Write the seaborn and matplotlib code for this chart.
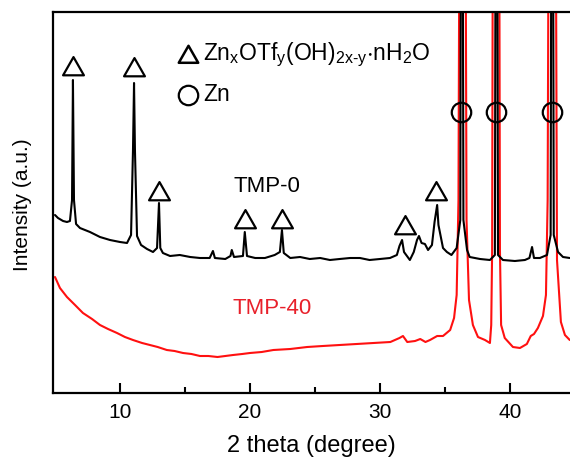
import numpy as np
import pandas as pd
import seaborn as sns
import matplotlib.pyplot as plt
from matplotlib.path import Path

# XRD patterns (2 theta in degree, intensity in a.u.)
# off-scale Zn reflections are given a large value, they run past the top frame
theta_tmp0 = [5.0, 5.23, 5.62, 5.92, 6.15, 6.31, 6.38, 6.46, 6.62, 6.92, 7.69, 8.46,
              9.23, 10.0, 10.54, 10.85, 11.0, 11.08, 11.15, 11.31, 11.62, 12.08, 12.54,
              12.85, 13.0, 13.1, 13.3, 13.85, 14.6, 15.4, 16.15, 16.9, 17.15, 17.3,
              18.1, 18.5, 18.6, 18.77, 19.46, 19.6, 19.77, 20.4, 21.15, 21.9, 22.3,
              22.46, 22.6, 23.1, 23.85, 24.6, 25.4, 26.15, 26.9, 27.7, 28.46, 29.2,
              30.0, 30.77, 31.3, 31.5, 31.7, 31.85, 32.3, 32.6, 32.85, 33.0, 33.2,
              33.46, 33.7, 34.0, 34.2, 34.4, 34.5, 34.85, 35.15, 35.5, 35.9, 36.18,
              36.3, 36.42, 36.7, 36.9, 37.7, 38.46, 38.84, 38.96, 39.08, 39.46, 40.38,
              41.15, 41.5, 41.7, 41.85, 42.3, 42.85, 43.13, 43.25, 43.37, 43.7, 44.08,
              44.6]
int_tmp0 = [1780, 1750, 1720, 1710, 1720, 1930, 3130, 1930, 1690, 1650, 1610, 1560,
            1530, 1510, 1500, 1580, 2430, 3100, 2430, 1570, 1480, 1440, 1410,
            1450, 1900, 1450, 1400, 1370, 1380, 1360, 1350, 1350, 1420, 1350,
            1340, 1370, 1430, 1360, 1370, 1610, 1370, 1350, 1350, 1380, 1410,
            1630, 1400, 1350, 1360, 1340, 1350, 1330, 1340, 1350, 1350, 1330,
            1340, 1350, 1380, 1470, 1530, 1410, 1330, 1410, 1530, 1570, 1500,
            1490, 1430, 1480, 1710, 1880, 1680, 1450, 1410, 1380, 1450, 1730,
            8930, 1730, 1430, 1360, 1340, 1330, 1380, 8930, 1380, 1330, 1320,
            1330, 1350, 1460, 1350, 1350, 1380, 1580, 8930, 1580, 1410, 1360,
            1350]

theta_tmp40 = [5.0, 5.38, 5.92, 6.54, 7.15, 7.85, 8.46, 9.08, 9.77, 10.38, 11.0, 11.7,
               12.3, 12.9, 13.6, 14.2, 14.85, 15.5, 16.15, 16.8, 17.5, 18.1, 18.7,
               19.4, 20.0, 20.9, 21.8, 23.1, 24.4, 25.6, 26.9, 28.2, 29.5, 30.8,
               31.5, 31.77, 32.1, 32.7, 33.1, 33.5, 33.85, 34.4, 34.85, 35.4, 35.7,
               35.9, 36.04, 36.14, 36.35, 36.56, 36.66, 36.85, 37.15, 37.54, 38.08,
               38.46, 38.56, 38.63, 38.7, 39.16, 39.23, 39.32, 39.6, 40.23, 40.77,
               41.3, 41.6, 41.85, 42.15, 42.54, 42.77, 42.9, 43.0, 43.25, 43.5,
               43.62, 43.92, 44.23, 44.6]
int_tmp40 = [1160, 1050, 960, 880, 800, 740, 680, 640, 600, 560, 530, 500,
             480, 460, 430, 420, 400, 390, 370, 370, 360, 370, 380,
             390, 400, 410, 430, 440, 460, 470, 480, 490, 500, 510,
             550, 570, 510, 520, 540, 510, 530, 570, 570, 630, 750,
             980, 1930, 5930, 9930, 5930, 1730, 930, 680, 560, 530,
             500, 680, 1430, 5930, 5930, 1430, 680, 550, 460, 450,
             490, 570, 590, 650, 770, 980, 1930, 5930, 9930, 5930,
             1330, 710, 580, 530]

# phase markers
tri_theta = [6.4, 11.1, 13.0, 19.6, 22.5, 31.9, 34.3]
tri_level = [3260, 3250, 2010, 1730, 1730, 1670, 2010]
zn_theta = [36.23, 38.92, 43.23]
zn_level = [2810, 2810, 2810]

df0 = pd.DataFrame({'theta': theta_tmp0, 'intensity': int_tmp0})
df40 = pd.DataFrame({'theta': theta_tmp40, 'intensity': int_tmp40})

sns.set_style('ticks')
plt.rcParams['font.family'] = ['Liberation Sans', 'DejaVu Sans']
plt.rcParams['mathtext.fontset'] = 'custom'
plt.rcParams['mathtext.rm'] = 'Liberation Sans'
plt.rcParams['mathtext.default'] = 'regular'
plt.rcParams['text.color'] = 'black'
plt.rcParams['axes.labelcolor'] = 'black'
plt.rcParams['axes.edgecolor'] = 'black'
plt.rcParams['xtick.color'] = 'black'

red = '#ff1010'
tri = Path([(-1, -0.75), (1, -0.75), (0, 1), (-1, -0.75)], closed=True)

fig = plt.figure(figsize=(5.7, 4.61), dpi=100)
ax = fig.add_axes([53 / 570, 68 / 461, 517 / 570, 381 / 461])

sns.lineplot(data=df40, x='theta', y='intensity', color=red, lw=1.5,
             estimator=None, ax=ax)
sns.lineplot(data=df0, x='theta', y='intensity', color='black', lw=1.5,
             estimator=None, ax=ax)

ax.plot(tri_theta, tri_level, ls='none', marker=tri, ms=15, mfc='none',
        mec='black', mew=1.6)
ax.plot(zn_theta, zn_level, ls='none', marker='o', ms=14, mfc='none',
        mec='black', mew=1.6)

# legend-like key drawn by hand
ax.plot([0.261], [0.887], transform=ax.transAxes, marker=tri, ms=14, mfc='none',
        mec='black', mew=1.8, clip_on=False)
ax.plot([0.261], [0.783], transform=ax.transAxes, marker='o', ms=14, mfc='none',
        mec='black', mew=1.6, clip_on=False)
ax.text(0.29, 0.887, r'Zn$_{x}$OTf$_{y}$(OH)$_{2x\text{-}y}$$\cdot$nH$_{2}$O',
        transform=ax.transAxes, ha='left', va='center', fontsize=16.5)
ax.text(0.29, 0.783, 'Zn', transform=ax.transAxes, ha='left', va='center',
        fontsize=16.5)

ax.text(0.414, 0.541, 'TMP-0', transform=ax.transAxes, ha='center', va='center',
        fontsize=16, color='black')
ax.text(0.424, 0.223, 'TMP-40', transform=ax.transAxes, ha='center', va='center',
        fontsize=16, color='#e8202a')

ax.set_xlim(4.846, 44.62)
ax.set_ylim(0, 3810)
ax.set_xticks([10, 20, 30, 40])
ax.set_xticks([15, 25, 35], minor=True)
ax.set_yticks([])
ax.tick_params(axis='x', which='major', direction='in', length=7, width=1.5,
               labelsize=15, pad=7)
ax.tick_params(axis='x', which='minor', direction='in', length=4, width=1.5)
ax.spines['right'].set_visible(False)
for s in ['left', 'bottom', 'top']:
    ax.spines[s].set_linewidth(1.6)

ax.set_xlabel('2 theta (degree)', fontsize=17)
ax.set_ylabel('Intensity (a.u.)', fontsize=15)
ax.xaxis.set_label_coords(0.5, -0.11)
ax.yaxis.set_label_coords(-0.04, 0.495)

fig.savefig('out.png', dpi=100)
